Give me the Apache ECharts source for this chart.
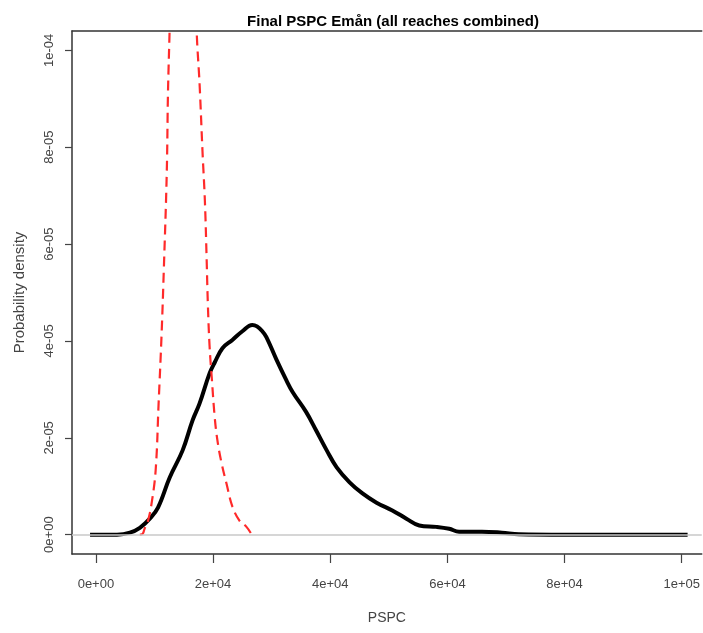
<!DOCTYPE html>
<html>
<head>
<meta charset="utf-8">
<script src="https://cdn.jsdelivr.net/npm/echarts@6/dist/echarts.min.js"></script>
<style>
html,body{margin:0;padding:0;background:#fff;}
#chart{width:703px;height:633px;}
</style>
</head>
<body>
<div id="chart"></div>
<script>
// Posterior density (black, solid)
const blackX = [-1000, 1000, 3600, 5800, 7500, 9200, 10600, 12600, 14800, 16500, 17700, 19400, 20300, 21600, 23300, 25000, 26700, 27500, 28400, 29100, 30800, 32500, 33600, 35900, 37600, 39400, 41100, 43300, 45500, 47900, 50600, 53000, 55200, 58100, 60300, 62000, 65900, 69300, 72200, 80000, 90000, 101000];
const blackY = [0, 0, 0, 0.4e-6, 1.4e-6, 3.3e-6, 5.6e-6, 11.8e-6, 17.4e-6, 23.6e-6, 27.1e-6, 33.3e-6, 35.6e-6, 38.5e-6, 40.2e-6, 42.0e-6, 43.3e-6, 43.0e-6, 42.0e-6, 40.8e-6, 36.2e-6, 31.9e-6, 29.4e-6, 25.3e-6, 21.5e-6, 17.4e-6, 13.9e-6, 10.8e-6, 8.5e-6, 6.6e-6, 5.0e-6, 3.3e-6, 1.9e-6, 1.6e-6, 1.2e-6, 0.6e-6, 0.6e-6, 0.4e-6, 0.1e-6, 0, 0, 0];
// Prior density (red, dashed)
const redX = [7500, 8000, 8300, 8900, 9500, 10200, 10700, 11200, 11600, 12100, 12300, 12600, 13000, 14000, 15000, 16000, 16800, 17200, 17700, 18200, 18600, 18900, 19100, 19400, 19800, 20300, 20800, 21500, 22300, 23300, 24500, 25700, 26600];
const redY = [0, 0.2e-6, 1.2e-6, 2.9e-6, 6.4e-6, 13.3e-6, 27e-6, 41e-6, 55e-6, 75e-6, 91e-6, 105e-6, 125e-6, 150e-6, 160e-6, 150e-6, 125e-6, 104e-6, 93e-6, 79e-6, 69e-6, 57e-6, 48e-6, 39e-6, 32e-6, 24e-6, 19e-6, 14.5e-6, 10.5e-6, 5.8e-6, 2.9e-6, 1.6e-6, 0];

const xTicks = [0, 20000, 40000, 60000, 80000, 100000];
const xTickLabels = ['0e+00', '2e+04', '4e+04', '6e+04', '8e+04', '1e+05'];
const yTicks = [0, 2e-5, 4e-5, 6e-5, 8e-5, 1e-4];
const yTickLabels = ['0e+00', '2e-05', '4e-05', '6e-05', '8e-05', '1e-04'];

const titleText = 'Final PSPC Emån (all reaches combined)';
const xName = 'PSPC';
const yName = 'Probability density';

const FONT = '"Liberation Sans", Arial, sans-serif';

function lookup(ticks, labels, v) {
  let best = 0, bd = Infinity;
  for (let i = 0; i < ticks.length; i++) {
    const d = Math.abs(ticks[i] - v);
    if (d < bd) { bd = d; best = i; }
  }
  return labels[best];
}

const chart = echarts.init(document.getElementById('chart'), null, {renderer: 'canvas'});
const lineCol = '#333';
chart.setOption({
  animation: false,
  backgroundColor: '#ffffff',
  title: {
    text: titleText,
    left: 388, top: 9, textAlign: 'center',
    textStyle: {fontFamily: FONT, fontWeight: 'bold', fontSize: 15, color: '#000'}
  },
  grid: {left: 72, top: 31, right: 0, bottom: 79, show: false},
  xAxis: [{
    type: 'value',
    min: -4080, max: 103416,
    name: xName, nameLocation: 'middle', nameGap: 57,
    nameTextStyle: {fontFamily: FONT, fontSize: 14, color: '#444'},
    axisLine: {show: true, onZero: false, lineStyle: {color: lineCol, width: 1.5}},
    axisTick: {show: true, customValues: xTicks, length: 9, lineStyle: {color: '#444', width: 1.2}},
    axisLabel: {customValues: xTicks, margin: 24, fontFamily: FONT, fontSize: 13, color: '#444',
      formatter: v => lookup(xTicks, xTickLabels, v)},
    splitLine: {show: false}
  }, {
    type: 'value', position: 'top',
    min: -4080, max: 103416,
    axisLine: {show: true, onZero: false, lineStyle: {color: lineCol, width: 1.5}},
    axisTick: {show: false}, axisLabel: {show: false}, splitLine: {show: false}
  }],
  yAxis: {
    type: 'value',
    min: -4e-6, max: 1.04e-4,
    name: yName, nameLocation: 'middle', nameGap: 45, nameRotate: 90,
    nameTextStyle: {fontFamily: FONT, fontSize: 15, color: '#444'},
    axisLine: {show: true, onZero: false, lineStyle: {color: lineCol, width: 1.5}},
    axisTick: {show: true, customValues: yTicks, length: 7, lineStyle: {color: '#444', width: 1.2}},
    axisLabel: {customValues: yTicks, rotate: 90, margin: 16, fontFamily: FONT, fontSize: 13, color: '#444',
      formatter: v => lookup(yTicks, yTickLabels, v)},
    splitLine: {show: false}
  },
  series: [
    {
      name: 'posterior', type: 'line',
      data: blackX.map((x, i) => [x, blackY[i]]),
      showSymbol: false, smooth: 0.4,
      lineStyle: {color: '#000', width: 4},
      z: 3,
      markLine: {
        silent: true, symbol: 'none', label: {show: false},
        lineStyle: {color: '#c8c8c8', width: 1.5, type: 'solid'},
        data: [{yAxis: 0}]
      }
    },
    {
      name: 'prior', type: 'line',
      data: redX.map((x, i) => [x, redY[i]]),
      showSymbol: false, smooth: 0.4,
      clip: true,
      lineStyle: {color: '#ff2a2a', width: 2.2, type: [10, 6]},
      z: 4
    }
  ]
});
</script>
</body>
</html>
